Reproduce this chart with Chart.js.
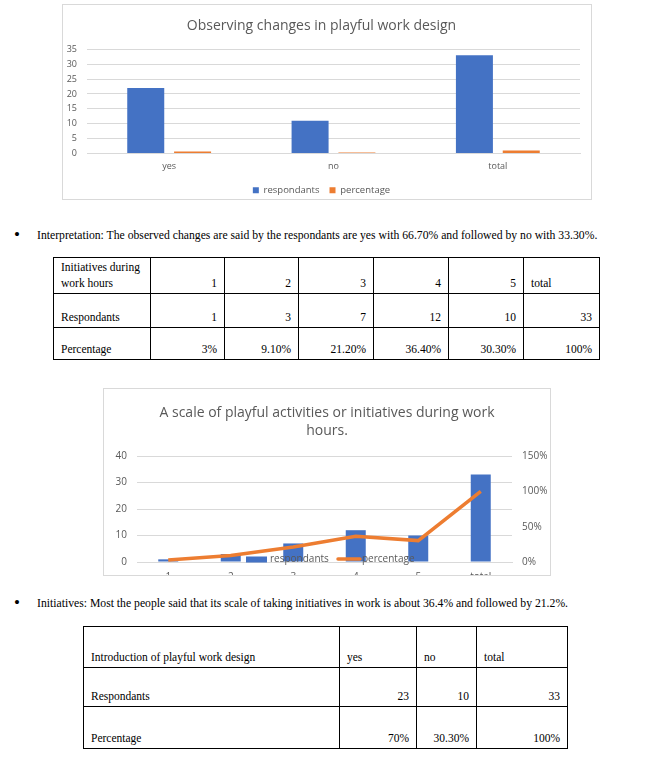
<!DOCTYPE html>
<html><head><meta charset="utf-8">
<script src="https://cdn.jsdelivr.net/npm/chart.js@4.4.1/dist/chart.umd.min.js"></script>
<style>
html,body{margin:0;padding:0;background:#fff;}
body{width:658px;height:758px;position:relative;overflow:hidden;font-family:"Liberation Serif","Times New Roman",serif;color:#000;}
.box{position:absolute;border:1px solid #d9d9d9;overflow:hidden;background:#fff;}
.box canvas{position:absolute;left:0;top:0;}
.bul{position:absolute;left:0;width:658px;height:16px;font-size:11.7px;line-height:16px;white-space:nowrap;}
.bul .dot{position:absolute;left:14px;top:-1px;font-size:17px;line-height:16px;}
.bul .txt{position:absolute;left:37px;top:0;}
table{position:absolute;border-collapse:collapse;table-layout:fixed;font-size:11.5px;}
td{border:1px solid #000;vertical-align:bottom;padding:0 7px 2px 7px;line-height:16px;overflow:hidden;white-space:nowrap;}
td.r{text-align:right;}
</style></head>
<body>
<div class="box" style="left:62px;top:4px;width:528px;height:194px;"><canvas id="c1" width="528" height="200"></canvas></div>

<div class="bul" style="top:228px;"><span class="dot">•</span><span class="txt">Interpretation: The observed changes are said by the respondants are yes with 66.70% and followed by no with 33.30%.</span></div>

<table style="left:53px;top:257px;width:547px;">
<colgroup><col style="width:97px"><col style="width:74px"><col style="width:74px"><col style="width:75px"><col style="width:75px"><col style="width:75px"><col style="width:76px"></colgroup>
<tr style="height:36px"><td>Initiatives during<br>work hours</td><td class="r">1</td><td class="r">2</td><td class="r">3</td><td class="r">4</td><td class="r">5</td><td>total</td></tr>
<tr style="height:34px"><td>Respondants</td><td class="r">1</td><td class="r">3</td><td class="r">7</td><td class="r">12</td><td class="r">10</td><td class="r">33</td></tr>
<tr style="height:32px"><td>Percentage</td><td class="r">3%</td><td class="r">9.10%</td><td class="r">21.20%</td><td class="r">36.40%</td><td class="r">30.30%</td><td class="r">100%</td></tr>
</table>

<div class="box" style="left:103px;top:388px;width:446px;height:186px;"><canvas id="c2" width="446" height="200"></canvas></div>

<div class="bul" style="top:596px;"><span class="dot">•</span><span class="txt">Initiatives: Most the people said that its scale of taking initiatives in work is about 36.4% and followed by 21.2%.</span></div>

<table style="left:83px;top:626px;width:485px;">
<colgroup><col style="width:256px"><col style="width:77px"><col style="width:60px"><col style="width:91px"></colgroup>
<tr style="height:41px"><td>Introduction of playful work design</td><td>yes</td><td>no</td><td>total</td></tr>
<tr style="height:39px"><td>Respondants</td><td class="r">23</td><td class="r">10</td><td class="r">33</td></tr>
<tr style="height:42px"><td>Percentage</td><td class="r">70%</td><td class="r">30.30%</td><td class="r">100%</td></tr>
</table>

<script>
// Chart 1: Observing changes in playful work design
const obsCategories = ['yes', 'no', 'total'];
const obsRespondants = [22, 11, 33];
const obsPercentage = [0.667, 0.333, 1.0];

// Chart 2: A scale of playful activities or initiatives during work hours
const scaleCategories = ['1', '2', '3', '4', '5', 'total'];
const scaleRespondants = [1, 3, 7, 12, 10, 33];
const scalePercentage = [0.03, 0.091, 0.212, 0.364, 0.303, 1.0];

const seriesNames = ['respondants', 'percentage'];
const BLUE = '#4472C4', ORANGE = '#ED7D31', GRAY = '#595959', GRID = '#d9d9d9';
const FONT = 'Open Sans';

new Chart(document.getElementById('c1'), {
  type: 'bar',
  data: {
    labels: obsCategories,
    datasets: [
      {label: seriesNames[0], data: obsRespondants, backgroundColor: BLUE, barPercentage: 0.79, categoryPercentage: 0.57},
      {label: seriesNames[1], data: obsPercentage, backgroundColor: ORANGE, barPercentage: 0.79, categoryPercentage: 0.57}
    ]
  },
  options: {
    responsive: false, animation: false, devicePixelRatio: 1,
    layout: {padding: {left: 0, right: 11, top: 0, bottom: 0}},
    plugins: {
      title: {display: true, text: 'Observing changes in playful work design', color: GRAY,
        font: {family: FONT, size: 14, weight: 'normal', lineHeight: 1.2}, padding: {top: 12.6, bottom: 14.9}},
      legend: {position: 'bottom', labels: {boxWidth: 6, boxHeight: 6, padding: 10, color: GRAY, font: {family: FONT, size: 9.5}}},
      tooltip: {enabled: false}
    },
    scales: {
      x: {grid: {display: false, drawTicks: false}, border: {color: GRID},
          ticks: {color: GRAY, font: {family: FONT, size: 9}, padding: 8},
          afterFit: s => { s.height = 22; }},
      y: {min: 0, max: 35, grid: {color: GRID, drawTicks: false}, border: {display: false},
          ticks: {stepSize: 5, color: GRAY, font: {family: FONT, size: 9}, padding: 10},
          afterFit: s => { s.width = 24; }}
    }
  }
});

const overlapLegend = {
  id: 'overlapLegend',
  afterDatasetsDraw(chart) {
    const ctx = chart.ctx, a = chart.chartArea;
    const y = a.bottom - 2.5;
    const x0 = a.left + 109;
    ctx.save();
    ctx.fillStyle = BLUE;
    ctx.fillRect(x0, y - 3, 21, 6);
    ctx.font = '10px "' + FONT + '"';
    ctx.fillStyle = GRAY;
    ctx.textBaseline = 'middle';
    ctx.textAlign = 'left';
    ctx.fillText(seriesNames[0], x0 + 24, y);
    ctx.strokeStyle = ORANGE;
    ctx.lineWidth = 3.5;
    ctx.lineCap = 'round';
    ctx.beginPath();
    ctx.moveTo(x0 + 92, y - 0.5);
    ctx.lineTo(x0 + 114, y - 0.5);
    ctx.stroke();
    ctx.fillText(seriesNames[1], x0 + 116, y);
    ctx.restore();
  }
};

new Chart(document.getElementById('c2'), {
  type: 'bar',
  data: {
    labels: scaleCategories,
    datasets: [
      {type: 'bar', label: seriesNames[0], data: scaleRespondants, backgroundColor: BLUE, barPercentage: 0.4, categoryPercentage: 0.8, yAxisID: 'y', order: 2},
      {type: 'line', label: seriesNames[1], data: scalePercentage, borderColor: ORANGE, backgroundColor: ORANGE, borderWidth: 3.5, pointRadius: 0, tension: 0, yAxisID: 'y1', order: 1}
    ]
  },
  options: {
    responsive: false, animation: false, devicePixelRatio: 1,
    layout: {padding: 0},
    plugins: {
      title: {display: true, text: ['A scale of playful activities or initiatives during work', 'hours.'], color: GRAY,
        font: {family: FONT, size: 14, weight: 'normal', lineHeight: 1.3}, padding: {top: 14.6, bottom: 16}},
      legend: {display: false},
      tooltip: {enabled: false}
    },
    scales: {
      x: {grid: {display: false, drawTicks: false}, border: {color: GRID},
          ticks: {color: GRAY, font: {family: FONT, size: 10}, padding: 9},
          afterFit: s => { s.height = 27; }},
      y: {position: 'left', min: 0, max: 40, grid: {color: GRID, drawTicks: false}, border: {display: false},
          ticks: {stepSize: 10, color: GRAY, font: {family: FONT, size: 10}, padding: 10},
          afterFit: s => { s.width = 33; }},
      y1: {position: 'right', min: 0, max: 1.5, grid: {display: false, drawTicks: false}, border: {display: false},
          ticks: {stepSize: 0.5, color: GRAY, font: {family: FONT, size: 10}, padding: 10,
                  callback: v => Math.round(v * 100) + '%'},
          afterFit: s => { s.width = 38; }}
    }
  },
  plugins: [overlapLegend]
});
</script>
</body></html>
